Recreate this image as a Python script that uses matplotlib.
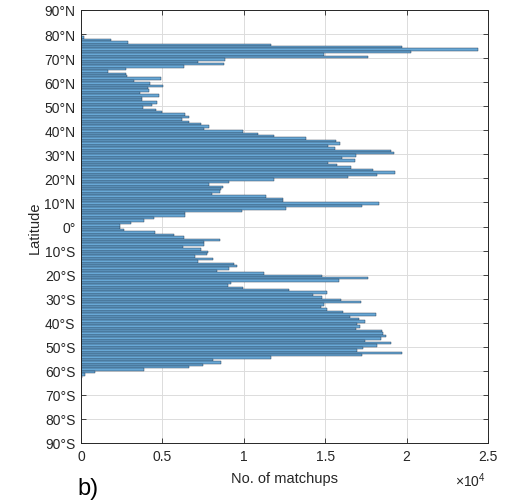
import matplotlib.pyplot as plt

plt.rcParams['font.family'] = ['Liberation Sans', 'DejaVu Sans']
plt.rcParams['mathtext.fontset'] = 'custom'
plt.rcParams['mathtext.rm'] = 'Liberation Sans'

# lower edge of each 1 degree latitude bin, north to south
lat_bins = list(range(78, -64, -1))

# matchups per bin
counts = [
    200, 1850, 2870, 11700, 19700, 24400, 20250, 14950, 17600,          # 78..70
    8840, 7160, 8800, 6340, 2740, 1680, 2780, 2800, 4900, 3270,        # 69..60
    4240, 5010, 4130, 4170, 3620, 4800, 3760, 3720, 4640, 4340,        # 59..50
    3830, 4600, 4990, 6380, 6630, 6180, 6630, 7400, 7880, 7550,        # 49..40
    9960, 10900, 11850, 13800, 15690, 15900, 15180, 15590, 19070, 19230,  # 39..30
    16880, 16060, 16820, 15180, 15750, 16610, 17940, 19310, 18190, 16370,  # 29..20
    11870, 9080, 7880, 8740, 8570, 8550, 8020, 11360, 12420, 12380,    # 19..10
    18290, 17290, 12580, 9920, 6380, 6380, 4500, 3870, 3070, 2390,     # 9..0
    2390, 2640, 4540, 5730, 6340, 8530, 7570, 7570, 6240, 7370,        # -1..-10
    7820, 7750, 7000, 8120, 7200, 9370, 9570, 9100, 8330, 11250,       # -11..-20
    14790, 17640, 15860, 9200, 9040, 9960, 12790, 15140, 14280, 14820,  # -21..-30
    15980, 17200, 14900, 14770, 15140, 16100, 18150, 16510, 17080, 17430,  # -31..-40
    16940, 17130, 16900, 18500, 18560, 18760, 18450, 17450, 19070, 18210,  # -41..-50
    17350, 16980, 19720, 17230, 11700, 8100, 8630, 7510, 6650, 3850,   # -51..-60
    840, 270, 50,                                                      # -61..-63
]

lat_ticks = list(range(-90, 91, 10))
lat_labels = ['90°S', '80°S', '70°S', '60°S', '50°S', '40°S', '30°S', '20°S', '10°S',
              '0°',
              '10°N', '20°N', '30°N', '40°N', '50°N', '60°N', '70°N', '80°N', '90°N']
x_ticks = [0, 5000, 10000, 15000, 20000, 25000]
x_labels = ['0', '0.5', '1', '1.5', '2', '2.5']

txt = '#262626'

fig = plt.figure(figsize=(5.08, 5.02), dpi=100)
ax = fig.add_axes([81 / 508, 1 - 444 / 502, 407 / 508, 433 / 502])

ax.barh(lat_bins, counts, height=1, align='edge',
        color='#68a8d6', edgecolor='#1c2e44', linewidth=0.3)

ax.set_xlim(0, 25000)
ax.set_ylim(-90, 90)
ax.set_xticks(x_ticks)
ax.set_xticklabels(x_labels)
ax.set_yticks(lat_ticks)
ax.set_yticklabels(lat_labels)

ax.set_axisbelow(True)
ax.grid(True, color='#dcdcdc', linewidth=0.7)
ax.tick_params(direction='in', top=True, right=True, length=3.5, width=0.6,
               colors=txt, labelsize=10, pad=4)
for s in ax.spines.values():
    s.set_color(txt)
    s.set_linewidth(0.7)

ax.set_xlabel('No. of matchups', fontsize=10.5, color=txt, labelpad=6)
ax.set_ylabel('Latitude', fontsize=10.5, color=txt, labelpad=2)

fig.text(470 / 508, 1 - 481 / 502, r'$\times10^{4}$', fontsize=10, color=txt,
         ha='center', va='center')
fig.text(88 / 508, 1 - 489 / 502, 'b)', fontsize=17, color='black',
         ha='center', va='center')

fig.savefig('out.png', dpi=100)
